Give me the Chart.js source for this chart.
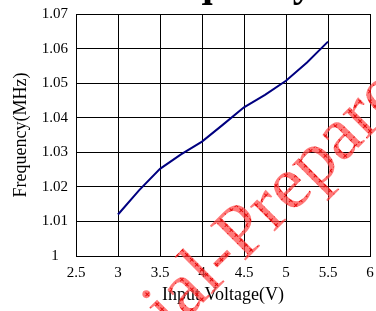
<!DOCTYPE html>
<html lang="en">
<head>
  <meta charset="UTF-8">
  <title>Frequency vs Input Voltage</title>
  <script src="https://cdn.jsdelivr.net/npm/chart.js@4/dist/chart.umd.min.js"></script>
  <style>
    html, body { margin: 0; padding: 0; background: #fff; }
    .chart-wrap { width: 376px; height: 311px; }
  </style>
</head>
<body>
  <div class="chart-wrap">
    <canvas id="freqChart"></canvas>
  </div>

  <script>
    // data
    const voltage = [3, 3.25, 3.5, 3.75, 4, 4.25, 4.5, 4.75, 5, 5.25, 5.5];
    const frequency = [1.012, 1.019, 1.0252, 1.0294, 1.0331, 1.038, 1.043, 1.0466, 1.0507, 1.056, 1.062];

    const xMin = 2.5, xMax = 6, xStep = 0.5;
    const yMin = 1, yMax = 1.07, yStep = 0.01;

    const serif = "'Liberation Serif', 'Times New Roman', serif";
    const fmt = v => String(Number(v.toFixed(2)));

    // red hatched watermark fill
    function hatchPattern(ctx) {
      const tile = document.createElement('canvas');
      tile.width = 7; tile.height = 7;
      const t = tile.getContext('2d');
      t.fillStyle = 'rgba(255, 70, 70, 0.72)';
      t.fillRect(0, 0, 7, 7);
      t.strokeStyle = 'rgba(230, 0, 0, 0.9)';
      t.lineWidth = 1;
      t.beginPath();
      t.moveTo(3.5, 1); t.lineTo(3.5, 6);
      t.moveTo(1, 3.5); t.lineTo(6, 3.5);
      t.stroke();
      return ctx.createPattern(tile, 'repeat');
    }

    const overlay = {
      id: 'overlay',
      afterDraw(chart) {
        const ctx = chart.ctx;
        ctx.save();
        // title, mostly above the top edge
        ctx.fillStyle = '#000';
        ctx.font = 'bold 40px ' + serif;
        ctx.textAlign = 'center';
        ctx.textBaseline = 'alphabetic';
        ctx.fillText('Frequency', 222, -4);

        // watermark
        ctx.translate(172, 334);
        ctx.rotate(-Math.PI / 4);
        ctx.font = '76px ' + serif;
        ctx.textAlign = 'left';
        ctx.fillStyle = hatchPattern(ctx);
        ctx.fillText('ial-Prepared', 0, 0);
        ctx.restore();
      }
    };

    const ctx = document.getElementById('freqChart').getContext('2d');

    new Chart(ctx, {
      type: 'line',
      data: {
        datasets: [{
          data: voltage.map((v, i) => ({ x: v, y: frequency[i] })),
          borderColor: '#000080',
          borderWidth: 2,
          pointRadius: 0,
          fill: false,
          tension: 0
        }]
      },
      options: {
        responsive: true,
        maintainAspectRatio: false,
        animation: false,
        layout: { padding: { top: 14, right: 6, left: 0, bottom: 0 } },
        plugins: {
          legend: { display: false },
          tooltip: { enabled: false }
        },
        scales: {
          x: {
            type: 'linear',
            min: xMin,
            max: xMax,
            ticks: {
              stepSize: xStep,
              color: '#000',
              font: { family: serif, size: 15 },
              padding: 8,
              maxRotation: 0,
              callback: fmt
            },
            grid: { color: '#000', lineWidth: 1, drawTicks: false },
            border: { color: '#000' },
            title: {
              display: true,
              text: 'Input Voltage(V)',
              color: '#000',
              font: { family: serif, size: 18 },
              padding: { top: 0, bottom: 5 }
            },
            afterFit(s) {
              s.height = 55;
              s.paddingLeft = 0;
              s.paddingRight = 0;
            }
          },
          y: {
            min: yMin,
            max: yMax,
            ticks: {
              stepSize: yStep,
              color: '#000',
              font: { family: serif, size: 15 },
              padding: 8,
              crossAlign: 'center',
              callback: fmt
            },
            grid: { color: '#000', lineWidth: 1, drawTicks: false },
            border: { color: '#000' },
            title: {
              display: true,
              text: 'Frequency(MHz)',
              color: '#000',
              font: { family: serif, size: 18 },
              padding: { top: 10, bottom: 0 }
            },
            afterFit(s) {
              s.width = 76;
              s.paddingTop = 0;
              s.paddingBottom = 0;
            }
          }
        }
      },
      plugins: [overlay]
    });
  </script>
</body>
</html>
